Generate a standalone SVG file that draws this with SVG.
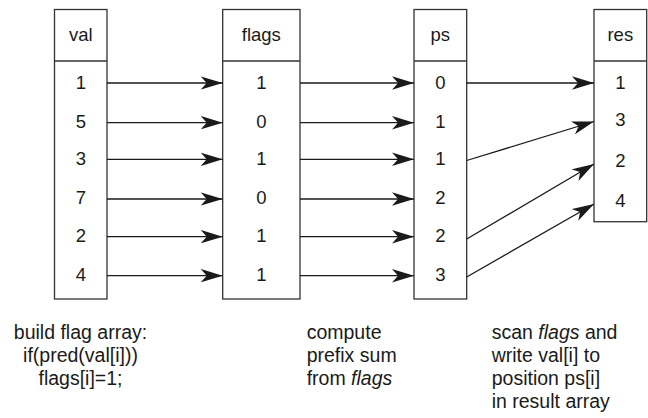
<svg xmlns="http://www.w3.org/2000/svg" width="648" height="418" viewBox="0 0 648 418">
<defs>
<marker id="ah" markerUnits="userSpaceOnUse" markerWidth="22" markerHeight="14" refX="22" refY="7" orient="auto" viewBox="0 0 22 14">
<path d="M0,0.3 L22,7 L0,13.7 L6,7 Z" fill="#1a1a1a"/>
</marker>
<style>
.box{fill:#fff;stroke:#333;stroke-width:1.3}
.sep{stroke:#333;stroke-width:1.3}
.t{font-family:"Liberation Sans",Arial,Helvetica,sans-serif;font-size:18.5px;fill:#1a1a1a;text-anchor:middle}
.d{font-family:"Liberation Sans",Arial,Helvetica,sans-serif;font-size:19.5px;fill:#1a1a1a}
.c{stroke:#1a1a1a;stroke-width:1.3;fill:none;marker-end:url(#ah)}
</style>
</defs>
<g id="val">
<rect class="box" x="54.5" y="9.5" width="52.5" height="289.5"/>
<line class="sep" x1="54.5" y1="61" x2="107" y2="61"/>
<text class="t" x="80.8" y="40.7">val</text>
<text class="t" x="80.8" y="89.3">1</text>
<text class="t" x="80.8" y="128.3">5</text>
<text class="t" x="80.8" y="165">3</text>
<text class="t" x="80.8" y="204">7</text>
<text class="t" x="80.8" y="242.3">2</text>
<text class="t" x="80.8" y="280.7">4</text>
</g>
<g id="flags">
<rect class="box" x="222.7" y="9.5" width="77.3" height="289.5"/>
<line class="sep" x1="222.7" y1="61" x2="300" y2="61"/>
<text class="t" x="261.3" y="40.7">flags</text>
<text class="t" x="261.3" y="89.3">1</text>
<text class="t" x="261.3" y="128.3">0</text>
<text class="t" x="261.3" y="165">1</text>
<text class="t" x="261.3" y="204">0</text>
<text class="t" x="261.3" y="242.3">1</text>
<text class="t" x="261.3" y="280.7">1</text>
</g>
<g id="ps">
<rect class="box" x="414" y="9.5" width="52.7" height="289.5"/>
<line class="sep" x1="414" y1="61" x2="466.7" y2="61"/>
<text class="t" x="440.3" y="40.7">ps</text>
<text class="t" x="440.3" y="89.3">0</text>
<text class="t" x="440.3" y="128.3">1</text>
<text class="t" x="440.3" y="165">1</text>
<text class="t" x="440.3" y="204">2</text>
<text class="t" x="440.3" y="242.3">2</text>
<text class="t" x="440.3" y="280.7">3</text>
</g>
<g id="res">
<rect class="box" x="594" y="9.5" width="52.7" height="212.2"/>
<line class="sep" x1="594" y1="61" x2="646.7" y2="61"/>
<text class="t" x="620.3" y="40.7">res</text>
<text class="t" x="620.3" y="89.3">1</text>
<text class="t" x="620.3" y="126">3</text>
<text class="t" x="620.3" y="166.7">2</text>
<text class="t" x="620.3" y="207.3">4</text>
</g>
<g id="connectors">
<line class="c" x1="107" y1="83" x2="222.7" y2="83"/>
<line class="c" x1="107" y1="122.7" x2="222.7" y2="122.7"/>
<line class="c" x1="107" y1="159.3" x2="222.7" y2="159.3"/>
<line class="c" x1="107" y1="199" x2="222.7" y2="199"/>
<line class="c" x1="107" y1="236.7" x2="222.7" y2="236.7"/>
<line class="c" x1="107" y1="275.7" x2="222.7" y2="275.7"/>
<line class="c" x1="300" y1="83" x2="414" y2="83"/>
<line class="c" x1="300" y1="122.7" x2="414" y2="122.7"/>
<line class="c" x1="300" y1="159.3" x2="414" y2="159.3"/>
<line class="c" x1="300" y1="199" x2="414" y2="199"/>
<line class="c" x1="300" y1="236.7" x2="414" y2="236.7"/>
<line class="c" x1="300" y1="275.7" x2="414" y2="275.7"/>
<line class="c" x1="466.7" y1="83" x2="594" y2="83"/>
<line class="c" x1="466.7" y1="160.5" x2="594" y2="121.5"/>
<line class="c" x1="466.7" y1="239" x2="594" y2="164"/>
<line class="c" x1="466.7" y1="277" x2="594" y2="204"/>
</g>
<g id="captions">
<text class="d" text-anchor="middle" x="80.5" y="339">build flag array:</text>
<text class="d" text-anchor="middle" x="80.5" y="362">if(pred(val[i]))</text>
<text class="d" text-anchor="middle" x="80.5" y="385">flags[i]=1;</text>
<text class="d" x="306.7" y="339">compute</text>
<text class="d" x="306.7" y="362">prefix sum</text>
<text class="d" x="306.7" y="385">from <tspan font-style="italic">flags</tspan></text>
<text class="d" x="491.7" y="339">scan <tspan font-style="italic">flags</tspan> and</text>
<text class="d" x="491.7" y="362">write val[i] to</text>
<text class="d" x="491.7" y="385">position ps[i]</text>
<text class="d" x="491.7" y="408">in result array</text>
</g>
</svg>
